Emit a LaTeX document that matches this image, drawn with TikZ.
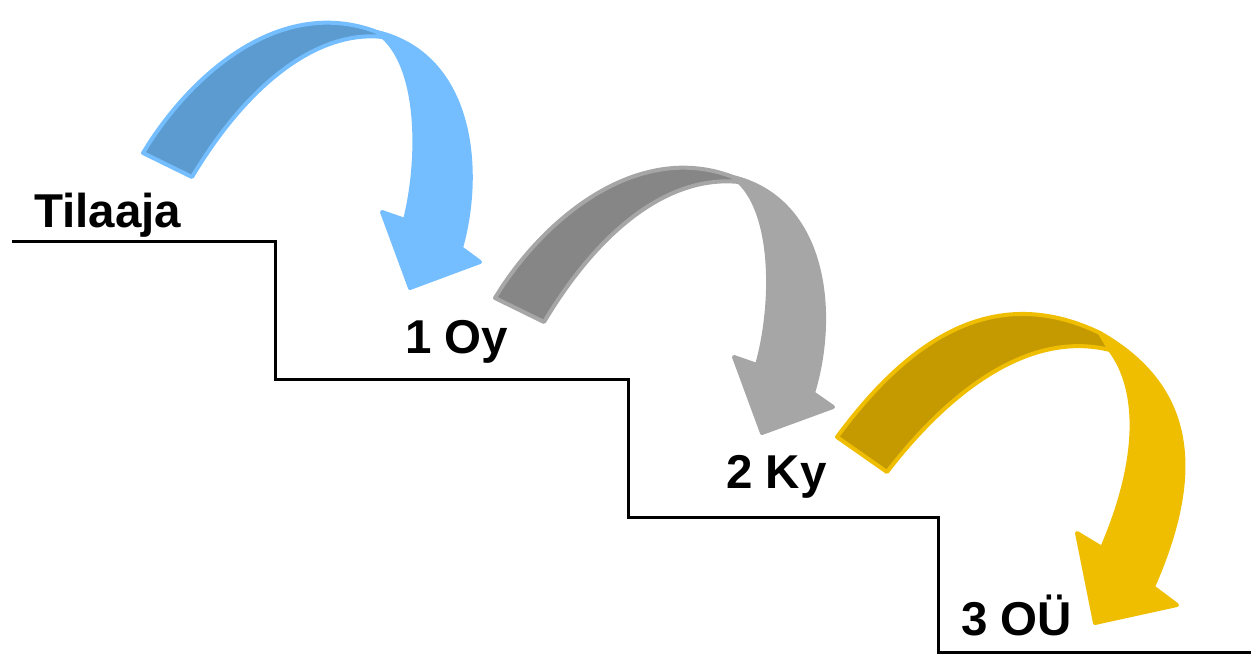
\documentclass[tikz,border=0pt]{standalone}
\usepackage{fontspec}
\setmainfont{Liberation Sans}
\definecolor{blueL}{HTML}{74BDFE}
\definecolor{blueD}{HTML}{5B9BD0}
\definecolor{grayL}{HTML}{A6A6A6}
\definecolor{grayD}{HTML}{868686}
\definecolor{goldL}{HTML}{F0BE00}
\definecolor{goldD}{HTML}{C49A00}
\tikzset{
  lbl/.style={inner sep=0pt, anchor=base west, font=\fontsize{47.5}{52}\selectfont\bfseries},
  stair/.style={line width=3pt, line join=miter},
  band/.style={line width=4pt, line join=round}
}
\begin{document}
\begin{tikzpicture}[x=1pt,y=-1pt]
\useasboundingbox (0,0) rectangle (1251,655);
% stairs
\draw[stair] (12,242) -- (275,242) -- (275,379) -- (628,379) -- (628,517) -- (938,517) -- (938,652) -- (1251,652);
% blue arrow
\begin{scope}
\filldraw[band, draw=blueL, fill=blueD] (143,153) .. controls (190,75) and (280,-5) .. (377,32) -- (383,37) .. controls (320,30) and (250,80) .. (192,177) -- cycle;
\filldraw[band, draw=blueL, fill=blueL] (377,32) .. controls (473,55) and (483,170) .. (461,248) -- (480,262) -- (410,288) -- (382,212) -- (405,220) .. controls (420,160) and (420,70) .. (383,37) -- cycle;
\end{scope}
% gray arrow
\begin{scope}[shift={(352,145)}]
\filldraw[band, draw=grayL, fill=grayD] (143,153) .. controls (190,75) and (285,-5) .. (381,32) -- (387,37) .. controls (320,30) and (250,80) .. (192,177) -- cycle;
\filldraw[band, draw=grayL, fill=grayL] (381,32) .. controls (475,55) and (485,170) .. (461,248) -- (481,262) -- (410,288) -- (382,212) -- (405,220) .. controls (422,160) and (422,70) .. (387,37) -- cycle;
\end{scope}
% gold arrow
\filldraw[band, draw=goldL, fill=goldD] (837,437) .. controls (905,345) and (990,280) .. (1100,333) -- (1110,350) .. controls (1030,330) and (950,390) .. (887,472) -- cycle;
\filldraw[band, draw=goldL, fill=goldL] (1100,333) .. controls (1200,390) and (1200,480) .. (1153,587) -- (1177,605) -- (1095,623) -- (1077,533) -- (1102,548) .. controls (1140,460) and (1140,390) .. (1110,350) -- cycle;
% labels
\node[lbl] (t0) at (34,228) {Tilaaja};
\node[lbl] (t1) at (405,353) {1 Oy};
\node[lbl] (t2) at (726,488) {2 Ky};
\node[lbl] (t3) at (961,635) {3 OÜ};
\end{tikzpicture}
\end{document}
